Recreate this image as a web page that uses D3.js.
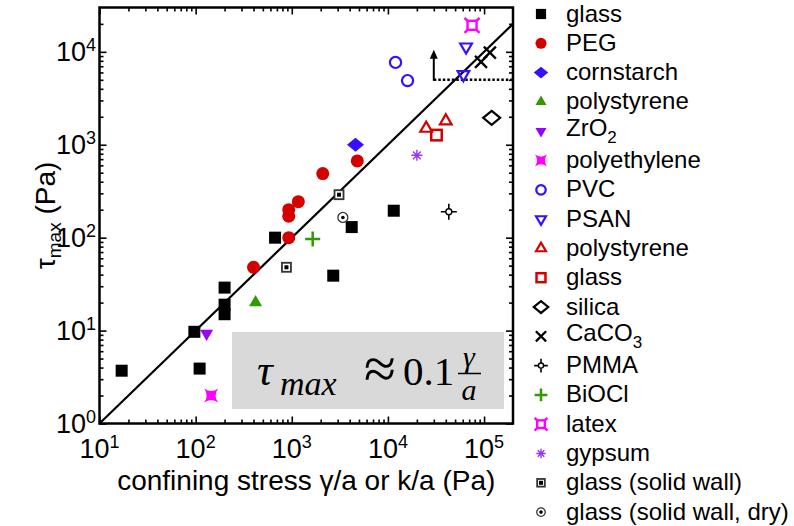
<!DOCTYPE html>
<html>
<head>
<meta charset="utf-8">
<script src="https://cdn.jsdelivr.net/npm/d3@7"></script>
<style>
body { margin: 0; background: #fff; }
svg text { font-family: "Liberation Sans", Arial, Helvetica, sans-serif; fill: #000; }
</style>
</head>
<body>
<svg id="chart" width="794" height="526"></svg>
<script>
// data, [confining stress (Pa), tau_max (Pa)]
const glass        = [[17, 3.7], [97, 9.7], [110, 3.9], [200, 29], [200, 19], [200, 15], [670, 100], [2700, 39], [4200, 130], [11500, 195]];
const peg          = [[400, 48], [930, 100], [930, 170], [930, 200], [1170, 244], [2100, 490], [4800, 670]];
const cornstarch   = [[4600, 1000]];
const polystyrene  = [[420, 20]];
const zro2         = [[130, 9.3]];
const polyethylene = [[145, 2]];
const pvc          = [[12000, 7700], [16000, 4900]];
const psan         = [[65000, 11300], [61000, 5700]];
const polystyrene2 = [[25000, 1500], [40000, 1800]];
const glass2       = [[32000, 1270]];
const silica       = [[120000, 1950]];
const caco3        = [[93000, 7800], [115000, 9800]];
const pmma         = [[43000, 190]];
const biocl        = [[1650, 97]];
const latex        = [[75000, 19300]];
const gypsum       = [[20000, 770]];
const glassWall    = [[880, 48], [3100, 290]];
const glassWallDry = [[3400, 165]];

const legendNames = ["glass", "PEG", "cornstarch", "polystyrene", "ZrO|2", "polyethylene", "PVC", "PSAN",
    "polystyrene", "glass", "silica", "CaCO|3", "PMMA", "BiOCl", "latex", "gypsum",
    "glass (solid wall)", "glass (solid wall, dry)"];
const seriesData = [glass, peg, cornstarch, polystyrene, zro2, polyethylene, pvc, psan,
    polystyrene2, glass2, silica, caco3, pmma, biocl, latex, gypsum, glassWall, glassWallDry];

const xTicks = [1e1, 1e2, 1e3, 1e4, 1e5];
const yTicks = [1e0, 1e1, 1e2, 1e3, 1e4];
const fitCoef = 0.1;
const fitRange = [10, 2e5];
const boundX = [3e4, 2e5];   // dotted threshold
const boundY = 5000;
const arrowTop = 1e4;

// marker styles, same order as legendNames
const styles = [
    {shape: "square", color: "#000"},
    {shape: "circle", color: "#d40000"},
    {shape: "diamond", color: "#3311ff"},
    {shape: "triUp", color: "#339900"},
    {shape: "triDown", color: "#9900ff"},
    {shape: "star4", color: "#ff00ff"},
    {shape: "circleOpen", color: "#3311ff"},
    {shape: "triDownOpen", color: "#3311ff"},
    {shape: "triUpOpen", color: "#d40000"},
    {shape: "squareOpen", color: "#d40000"},
    {shape: "diamondOpen", color: "#000"},
    {shape: "x", color: "#000"},
    {shape: "pmma", color: "#000"},
    {shape: "plus", color: "#339900"},
    {shape: "squareSpike", color: "#ff00ff"},
    {shape: "asterisk", color: "#9933ff"},
    {shape: "sqDot", color: "#000"},
    {shape: "circDot", color: "#000"}
];

const svg = d3.select("#chart");
const W = {l: 99.5, r: 513, t: 7.5, b: 423.5};

const x = d3.scaleLog().domain([10, 2e5]).range([W.l, W.r]);
const y = d3.scaleLog().domain([1, 3e4]).range([W.b, W.t]);

function drawMarker(g, shape, color, k) {
    const s = 12 * k;
    if (shape == "square") {
        g.append("rect").attr("x", -s/2).attr("y", -s/2).attr("width", s).attr("height", s).attr("fill", color);
    } else if (shape == "circle") {
        g.append("circle").attr("r", 6.5 * k).attr("fill", color);
    } else if (shape == "diamond" || shape == "diamondOpen") {
        const w = 8.5 * k, h = 7 * k;
        g.append("path").attr("d", `M0,${-h}L${w},0L0,${h}L${-w},0Z`)
            .attr("fill", shape == "diamond" ? color : "none")
            .attr("stroke", color).attr("stroke-width", shape == "diamond" ? 0 : 2.2);
    } else if (shape.startsWith("tri")) {
        const a = 13 * k, up = shape.startsWith("triUp") ? 1 : -1;
        const open = shape.endsWith("Open");
        const sa = open ? a * 0.9 : a;
        const hh = sa * 0.866;
        g.append("path")
            .attr("d", `M0,${-up*hh*2/3}L${sa/2},${up*hh/3}L${-sa/2},${up*hh/3}Z`)
            .attr("fill", open ? "none" : color)
            .attr("stroke", open ? color : "none").attr("stroke-width", 2.2);
    } else if (shape == "star4") {
        const r = 7 * k, q = 2 * k;
        g.append("path")
            .attr("d", `M${-r},${-r}Q0,${-q} ${r},${-r}Q${q},0 ${r},${r}Q0,${q} ${-r},${r}Q${-q},0 ${-r},${-r}Z`)
            .attr("fill", color);
    } else if (shape == "squareSpike") {
        // square outline with little diagonal spikes at the corners
        const h = 4.5 * k, sp = 7.5 * k;
        g.append("rect").attr("x", -h).attr("y", -h).attr("width", 2*h).attr("height", 2*h)
            .attr("fill", "none").attr("stroke", color).attr("stroke-width", 2.4);
        g.append("path")
            .attr("d", `M${-h},${-h}L${-sp},${-sp}M${h},${-h}L${sp},${-sp}M${h},${h}L${sp},${sp}M${-h},${h}L${-sp},${sp}`)
            .attr("stroke", color).attr("stroke-width", 2.4);
    } else if (shape == "circleOpen") {
        g.append("circle").attr("r", 5.6 * k).attr("fill", "none").attr("stroke", color).attr("stroke-width", 2.2);
    } else if (shape == "squareOpen") {
        const sq = 10.5 * k;
        g.append("rect").attr("x", -sq/2).attr("y", -sq/2).attr("width", sq).attr("height", sq)
            .attr("fill", "none").attr("stroke", color).attr("stroke-width", 2.5);
    } else if (shape == "x") {
        const r = 6 * k;
        g.append("path").attr("d", `M${-r},${-r}L${r},${r}M${-r},${r}L${r},${-r}`)
            .attr("stroke", color).attr("stroke-width", 2.3);
    } else if (shape == "plus") {
        const r = 7.5 * k;
        g.append("path").attr("d", `M${-r},0L${r},0M0,${-r}L0,${r}`)
            .attr("stroke", color).attr("stroke-width", 2.5);
    } else if (shape == "asterisk") {
        const r = 5.5 * k, d = r * 0.707;
        g.append("path").attr("d", `M${-r},0L${r},0M0,${-r}L0,${r}M${-d},${-d}L${d},${d}M${-d},${d}L${d},${-d}`)
            .attr("stroke", color).attr("stroke-width", 1.4);
    } else if (shape == "pmma") {
        const r = 8 * k, c = 3 * k;
        g.append("path").attr("d", `M${-r},0L${-c},0M${c},0L${r},0M0,${-r}L0,${-c}M0,${c}L0,${r}`)
            .attr("stroke", color).attr("stroke-width", 1.6);
        g.append("circle").attr("r", c).attr("fill", "#fff").attr("stroke", color).attr("stroke-width", 1.4);
    } else if (shape == "sqDot") {
        const sq = 9 * k;
        g.append("rect").attr("x", -sq/2).attr("y", -sq/2).attr("width", sq).attr("height", sq)
            .attr("fill", "#fff").attr("stroke", "#333").attr("stroke-width", 1.8);
        g.append("rect").attr("x", -2).attr("y", -2).attr("width", 4).attr("height", 4).attr("fill", color);
    } else if (shape == "circDot") {
        g.append("circle").attr("r", 5 * k).attr("fill", "#fff").attr("stroke", "#333").attr("stroke-width", 1.3);
        g.append("circle").attr("r", 1.8).attr("fill", color);
    }
}

// ticks, all pointing inward
const minors = [];
for (let d = 10; d < 3e5; d *= 10) for (let m = 2; m <= 9; m++) minors.push(d * m);
const xMinor = minors.filter(v => v < 2e5);
const yMinor = [1, ...minors].map(v => v / 10).filter(v => v > 1 && v < 3e4 && !yTicks.includes(v));

function tickAxis(axisFn, scale, vals, len, tx, ty) {
    svg.append("g").attr("transform", `translate(${tx},${ty})`)
        .call(axisFn(scale).tickValues(vals).tickSize(-len).tickFormat(""))
        .call(g => g.select(".domain").remove())
        .call(g => g.selectAll("line").attr("stroke", "#000").attr("stroke-width", 1.6));
}
tickAxis(d3.axisBottom, x, xTicks, 7, 0, W.b);
tickAxis(d3.axisBottom, x, xMinor, 4, 0, W.b);
tickAxis(d3.axisTop, x, xTicks, 7, 0, W.t);
tickAxis(d3.axisTop, x, xMinor, 4, 0, W.t);
tickAxis(d3.axisLeft, y, yTicks, 7, W.l, 0);
tickAxis(d3.axisLeft, y, yMinor, 4, W.l, 0);
tickAxis(d3.axisRight, y, yTicks, 7, W.r, 0);
tickAxis(d3.axisRight, y, yMinor, 4, W.r, 0);

// frame
svg.append("rect")
    .attr("x", W.l).attr("y", W.t).attr("width", W.r - W.l).attr("height", W.b - W.t)
    .attr("fill", "none").attr("stroke", "#000").attr("stroke-width", 2.5);

// tick labels
svg.append("g").selectAll("text")
    .data(xTicks)
  .join("text")
    .attr("x", d => x(d)).attr("y", 458)
    .attr("text-anchor", "middle").attr("font-size", 27)
    .each(function(d) {
        const t = d3.select(this);
        t.append("tspan").text("10");
        t.append("tspan").attr("dy", -10).attr("font-size", 18).text(Math.round(Math.log10(d)));
    });

svg.append("g").selectAll("text")
    .data(yTicks)
  .join("text")
    .attr("x", 96).attr("y", d => y(d) + 9.5)
    .attr("text-anchor", "end").attr("font-size", 27)
    .each(function(d) {
        const t = d3.select(this);
        t.append("tspan").text("10");
        t.append("tspan").attr("dy", -10).attr("font-size", 18).text(Math.round(Math.log10(d)));
    });

// axis titles
svg.append("text")
    .attr("x", (W.l + W.r) / 2).attr("y", 490)
    .attr("text-anchor", "middle").attr("font-size", 28)
    .text("confining stress γ/a or k/a (Pa)");

const yl = svg.append("text")
    .attr("transform", `translate(55,${(W.t + W.b) / 2}) rotate(-90)`)
    .attr("text-anchor", "middle").attr("font-size", 28);
yl.append("tspan").text("τ");
yl.append("tspan").attr("dy", 6).attr("font-size", 19).text("max");
yl.append("tspan").attr("dy", -6).text(" (Pa)");

// formula box
svg.append("rect")
    .attr("x", 232).attr("y", 332).attr("width", 272).attr("height", 77)
    .attr("fill", "#d9d9d9");

const fg = svg.append("g").style("font-family", "'Liberation Serif', 'Times New Roman', serif");
fg.append("text").attr("x", 257).attr("y", 385).attr("font-size", 44).attr("font-style", "italic")
    .style("font-family", "inherit").text("τ");
fg.append("text").attr("x", 280).attr("y", 395).attr("font-size", 34).attr("font-style", "italic")
    .style("font-family", "inherit").text("max");
fg.append("text").attr("x", 380).attr("y", 388).attr("font-size", 58).attr("text-anchor", "middle")
    .style("font-family", "inherit").text("≈");
fg.append("text").attr("x", 403).attr("y", 385).attr("font-size", 41)
    .style("font-family", "inherit").text("0.1");
fg.append("text").attr("x", 469).attr("y", 367).attr("font-size", 30).attr("font-style", "italic")
    .attr("text-anchor", "middle").style("font-family", "inherit").text("γ");
fg.append("line").attr("x1", 458).attr("x2", 481).attr("y1", 373.5).attr("y2", 373.5)
    .attr("stroke", "#000").attr("stroke-width", 1.5);
fg.append("text").attr("x", 469).attr("y", 400).attr("font-size", 30).attr("font-style", "italic")
    .attr("text-anchor", "middle").style("font-family", "inherit").text("a");

// fit line
svg.append("path")
    .datum(fitRange)
    .attr("d", d3.line().x(d => x(d)).y(d => y(fitCoef * d)))
    .attr("stroke", "#000").attr("stroke-width", 2.2).attr("fill", "none");

// threshold and arrow
svg.append("line")
    .attr("x1", x(boundX[0])).attr("x2", x(boundX[1])).attr("y1", y(boundY)).attr("y2", y(boundY))
    .attr("stroke", "#000").attr("stroke-width", 2.5).attr("stroke-dasharray", "2.5,2");
svg.append("line")
    .attr("x1", x(boundX[0])).attr("x2", x(boundX[0])).attr("y1", y(boundY) + 1).attr("y2", y(arrowTop) + 6)
    .attr("stroke", "#000").attr("stroke-width", 2);
svg.append("path")
    .attr("d", `M${x(boundX[0])},${y(arrowTop) - 2}l4,9l-8,0Z`)
    .attr("fill", "#000");

// data points
const pts = svg.append("g").attr("class", "points");
seriesData.forEach((arr, i) => {
    arr.forEach(p => {
        const g = pts.append("g").attr("transform", `translate(${x(p[0])},${y(p[1])})`);
        drawMarker(g, styles[i].shape, styles[i].color, 1);
    });
});

// legend
const leg = svg.append("g").attr("class", "legend");
legendNames.forEach((name, i) => {
    const cy = 14 + i * 29.3;
    const g = leg.append("g").attr("transform", `translate(541,${cy})`);
    drawMarker(g, styles[i].shape, styles[i].color, 0.85);
    const parts = name.split("|");
    const t = leg.append("text")
        .attr("x", 566).attr("y", cy + (parts.length > 1 ? 5 : 7.5))
        .attr("font-size", 24);
    t.append("tspan").text(parts[0]);
    if (parts.length > 1) {
        t.append("tspan").attr("dy", 7).attr("font-size", 17).text(parts[1]);
    }
});
</script>
</body>
</html>
